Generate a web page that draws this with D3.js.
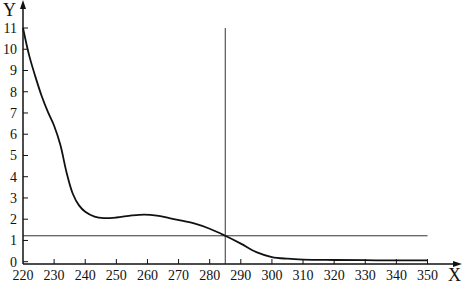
<!DOCTYPE html>
<html>
<head>
<meta charset="utf-8">
<script src="https://cdn.jsdelivr.net/npm/d3@7"></script>
<style>
  body { margin: 0; background: #fff; }
  text { font-family: "Liberation Serif", "DejaVu Serif", serif; fill: #111; }
</style>
</head>
<body>
<svg width="464" height="285"></svg>
<script>
var xs = [220, 222, 224, 226, 228, 230, 232, 234, 236, 238, 240, 243, 246, 250, 255, 259, 263, 267, 271, 275, 280, 285, 290, 295, 300, 305, 310, 320, 330, 340, 350];
var ys = [11, 9.7, 8.7, 7.8, 7.05, 6.4, 5.5, 4.2, 3.2, 2.65, 2.35, 2.12, 2.05, 2.08, 2.18, 2.22, 2.17, 2.05, 1.93, 1.8, 1.55, 1.22, 0.85, 0.45, 0.22, 0.14, 0.1, 0.08, 0.07, 0.06, 0.06];
var xTicks = [220, 230, 240, 250, 260, 270, 280, 290, 300, 310, 320, 330, 340, 350];
var yTicks = [0, 1, 2, 3, 4, 5, 6, 7, 8, 9, 10, 11];
var markX = 285;
var markY = 1.22;

var svg = d3.select('svg');
var x = d3.scaleLinear().domain([220, 350]).range([23, 427.5]);
var y = d3.scaleLinear().domain([0, 11]).range([261.7, 28]);
var axisY = 264;

// reference lines
svg.append('line')
    .attr('x1', x(markX)).attr('x2', x(markX))
    .attr('y1', y(11)).attr('y2', axisY)
    .attr('stroke', '#333').attr('stroke-width', 1);
svg.append('line')
    .attr('x1', x(220)).attr('x2', x(350))
    .attr('y1', y(markY)).attr('y2', y(markY))
    .attr('stroke', '#333').attr('stroke-width', 1);

// axes
svg.append('line')
    .attr('x1', x(220)).attr('x2', 456)
    .attr('y1', axisY).attr('y2', axisY)
    .attr('stroke', '#111').attr('stroke-width', 1.5);
svg.append('path')
    .attr('d', 'M462,' + axisY + 'L453,' + (axisY - 3) + 'L453,' + (axisY + 3) + 'Z')
    .attr('fill', '#111');
svg.append('line')
    .attr('x1', x(220)).attr('x2', x(220))
    .attr('y1', axisY).attr('y2', 6)
    .attr('stroke', '#111').attr('stroke-width', 1.5);
svg.append('path')
    .attr('d', 'M' + x(220) + ',0L' + (x(220) - 3) + ',9L' + (x(220) + 3) + ',9Z')
    .attr('fill', '#111');

// ticks
svg.selectAll('.xt').data(xTicks.slice(1)).enter().append('line')
    .attr('x1', function(d) { return x(d); }).attr('x2', function(d) { return x(d); })
    .attr('y1', axisY - 5).attr('y2', axisY)
    .attr('stroke', '#111').attr('stroke-width', 1);
svg.selectAll('.yt').data(yTicks).enter().append('line')
    .attr('x1', x(220)).attr('x2', x(220) + 5)
    .attr('y1', function(d) { return y(d); }).attr('y2', function(d) { return y(d); })
    .attr('stroke', '#111').attr('stroke-width', 1);

svg.selectAll('.xl').data(xTicks).enter().append('text')
    .attr('x', function(d) { return x(d); })
    .attr('y', 280)
    .attr('text-anchor', 'middle')
    .attr('font-size', 14)
    .text(function(d) { return d; });
svg.selectAll('.yl').data(yTicks).enter().append('text')
    .attr('x', 17)
    .attr('y', function(d) { return y(d) + 5; })
    .attr('text-anchor', 'end')
    .attr('font-size', 14)
    .text(function(d) { return d; });

svg.append('text').attr('x', 3).attr('y', 16).attr('font-size', 18).text('Y');
svg.append('text').attr('x', 448).attr('y', 281).attr('font-size', 18).text('X');

// curve
var pts = xs.map(function(d, i) { return [d, ys[i]]; });
var line = d3.line()
    .x(function(d) { return x(d[0]); })
    .y(function(d) { return y(d[1]); })
    .curve(d3.curveCatmullRom.alpha(0.5));
svg.append('path')
    .attr('d', line(pts))
    .attr('fill', 'none')
    .attr('stroke', '#111')
    .attr('stroke-width', 1.8);
</script>
</body>
</html>
